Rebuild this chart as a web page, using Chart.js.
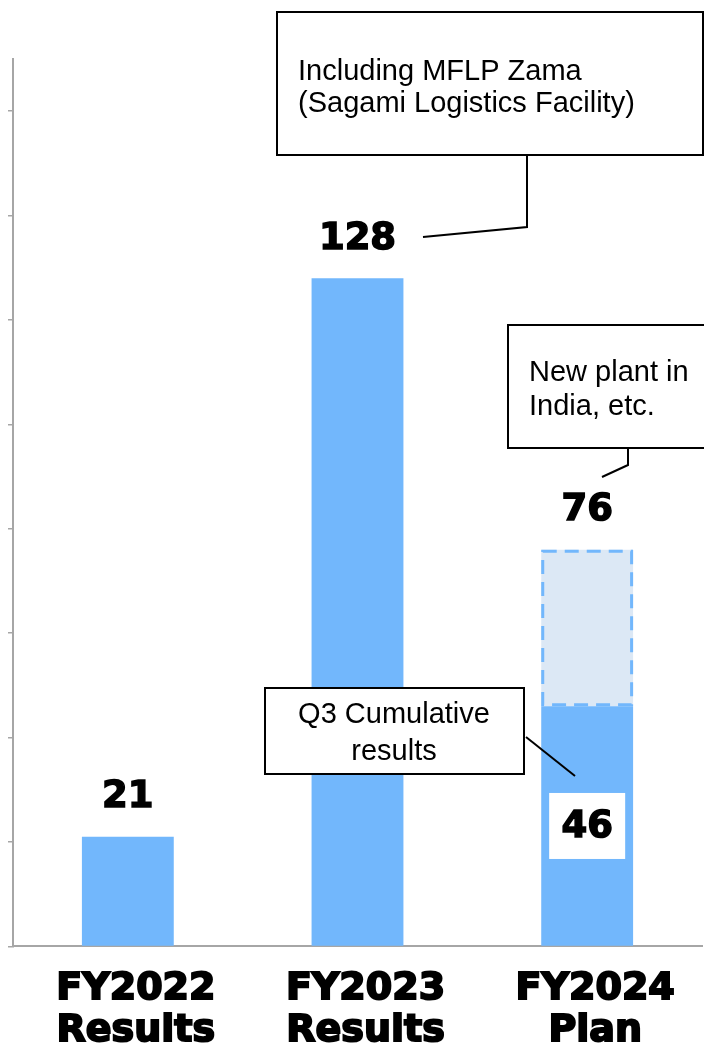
<!DOCTYPE html>
<html>
<head>
<meta charset="utf-8">
<script src="https://cdn.jsdelivr.net/npm/chart.js@4"></script>
<style>
  html, body { margin: 0; padding: 0; background: #fff; }
  #wrap { width: 704px; height: 1050px; position: relative; }
</style>
</head>
<body>
<div id="wrap"><canvas id="capexChart"></canvas></div>
<script>
const categories = [['FY2022', 'Results'], ['FY2023', 'Results'], ['FY2024', 'Plan']];
const resultValues = [21, 128, 46];
const planExtra = [0, 0, 30];

const solidBlue = '#72b7fc';
const lightBlue = '#dce8f5';
const axisGrey = '#a6a6a6';

// callout boxes with leader lines (pixel layout)
const callouts = [
    {box: [277, 12, 426, 143], lines: ['Including MFLP Zama', '(Sagami Logistics Facility)'],
     textX: 298, textY: [72, 104], align: 'left', leader: [[527, 155], [527, 227], [423, 237]]},
    {box: [508, 325, 210, 123], lines: ['New plant in', 'India, etc.'],
     textX: 529, textY: [373, 407], align: 'left', leader: [[628, 448], [628, 465], [602, 477]]},
    {box: [265, 688, 259, 86], lines: ['Q3 Cumulative', 'results'],
     textX: 394, textY: [715, 752], align: 'center', leader: [[526, 737], [575, 776]]}
];

const boldFont = 'bold 37px "DejaVu Sans"';

const dashedPlanPlugin = {
    id: 'dashedPlan',
    afterDatasetsDraw(chart) {
        const ctx = chart.ctx;
        const meta = chart.getDatasetMeta(1);
        meta.data.forEach((bar, i) => {
            if (!planExtra[i]) return;
            const p = bar.getProps(['x', 'y', 'base', 'width'], true);
            ctx.save();
            ctx.strokeStyle = solidBlue;
            ctx.lineWidth = 3;
            ctx.setLineDash([14, 8]);
            ctx.strokeRect(p.x - p.width / 2 + 1.5, p.y + 1.5, p.width - 3, p.base - p.y - 3);
            ctx.restore();
        });
    }
};

const valueLabelPlugin = {
    id: 'valueLabels',
    afterDatasetsDraw(chart) {
        const ctx = chart.ctx;
        const solid = chart.getDatasetMeta(0).data;
        const plan = chart.getDatasetMeta(1).data;
        ctx.save();
        ctx.font = boldFont;
        ctx.textAlign = 'center';
        ctx.textBaseline = 'middle';
        ctx.fillStyle = '#000';
        ctx.strokeStyle = '#000';
        ctx.lineWidth = 1.5;
        resultValues.forEach((v, i) => {
            const total = v + planExtra[i];
            const top = planExtra[i] ? plan[i] : solid[i];
            const tp = top.getProps(['x', 'y'], true);
            ctx.strokeText(String(total), tp.x, tp.y - 39);
            ctx.fillText(String(total), tp.x, tp.y - 39);
            if (planExtra[i]) {
                const sp = solid[i].getProps(['x', 'y', 'base'], true);
                const cy = (sp.y + sp.base) / 2;
                ctx.fillStyle = '#fff';
                ctx.fillRect(sp.x - 38, cy - 33, 76, 66);
                ctx.fillStyle = '#000';
                ctx.strokeText(String(v), sp.x, cy + 1);
                ctx.fillText(String(v), sp.x, cy + 1);
            }
        });
        ctx.restore();
    }
};

const calloutPlugin = {
    id: 'callouts',
    afterDraw(chart) {
        const ctx = chart.ctx;
        ctx.save();
        callouts.forEach(c => {
            ctx.fillStyle = '#fff';
            ctx.fillRect(c.box[0], c.box[1], c.box[2], c.box[3]);
            ctx.strokeStyle = '#000';
            ctx.lineWidth = 2;
            ctx.strokeRect(c.box[0], c.box[1], c.box[2], c.box[3]);
            ctx.beginPath();
            c.leader.forEach((pt, k) => k ? ctx.lineTo(pt[0], pt[1]) : ctx.moveTo(pt[0], pt[1]));
            ctx.stroke();
            ctx.fillStyle = '#000';
            ctx.font = '29px "Liberation Sans"';
            ctx.textAlign = c.align;
            ctx.textBaseline = 'middle';
            c.lines.forEach((t, k) => ctx.fillText(t, c.textX, c.textY[k]));
        });
        ctx.restore();
    }
};

new Chart(document.getElementById('capexChart'), {
    type: 'bar',
    data: {
        labels: categories,
        datasets: [{
            label: 'Results',
            data: resultValues,
            backgroundColor: solidBlue,
            borderWidth: 0,
            barPercentage: 0.4,
            categoryPercentage: 1
        }, {
            label: 'Plan',
            data: planExtra,
            backgroundColor: lightBlue,
            borderWidth: 0,
            barPercentage: 0.4,
            categoryPercentage: 1
        }]
    },
    options: {
        responsive: true,
        maintainAspectRatio: false,
        animation: false,
        layout: {padding: {top: 59, left: 8, right: 2, bottom: -24}},
        plugins: {
            legend: {display: false},
            tooltip: {enabled: false}
        },
        scales: {
            x: {
                stacked: true,
                grid: {display: false, drawTicks: false},
                border: {color: axisGrey, width: 2},
                ticks: {
                    color: '#000',
                    font: {family: 'DejaVu Sans', weight: 'bold', size: 38, lineHeight: 1.1},
                    textStrokeColor: '#000',
                    textStrokeWidth: 2,
                    padding: 22,
                    labelOffset: 8,
                    maxRotation: 0,
                    autoSkip: false
                }
            },
            y: {
                stacked: true,
                min: 0,
                max: 170,
                afterBuildTicks: scale => {
                    scale.ticks = scale.ticks.filter(t => t.value % 20 === 0);
                },
                grid: {drawOnChartArea: false, drawTicks: true, tickLength: 5, color: axisGrey, lineWidth: 1.5},
                border: {color: axisGrey, width: 2},
                ticks: {display: false, stepSize: 20}
            }
        }
    },
    plugins: [dashedPlanPlugin, valueLabelPlugin, calloutPlugin]
});
</script>
</body>
</html>
